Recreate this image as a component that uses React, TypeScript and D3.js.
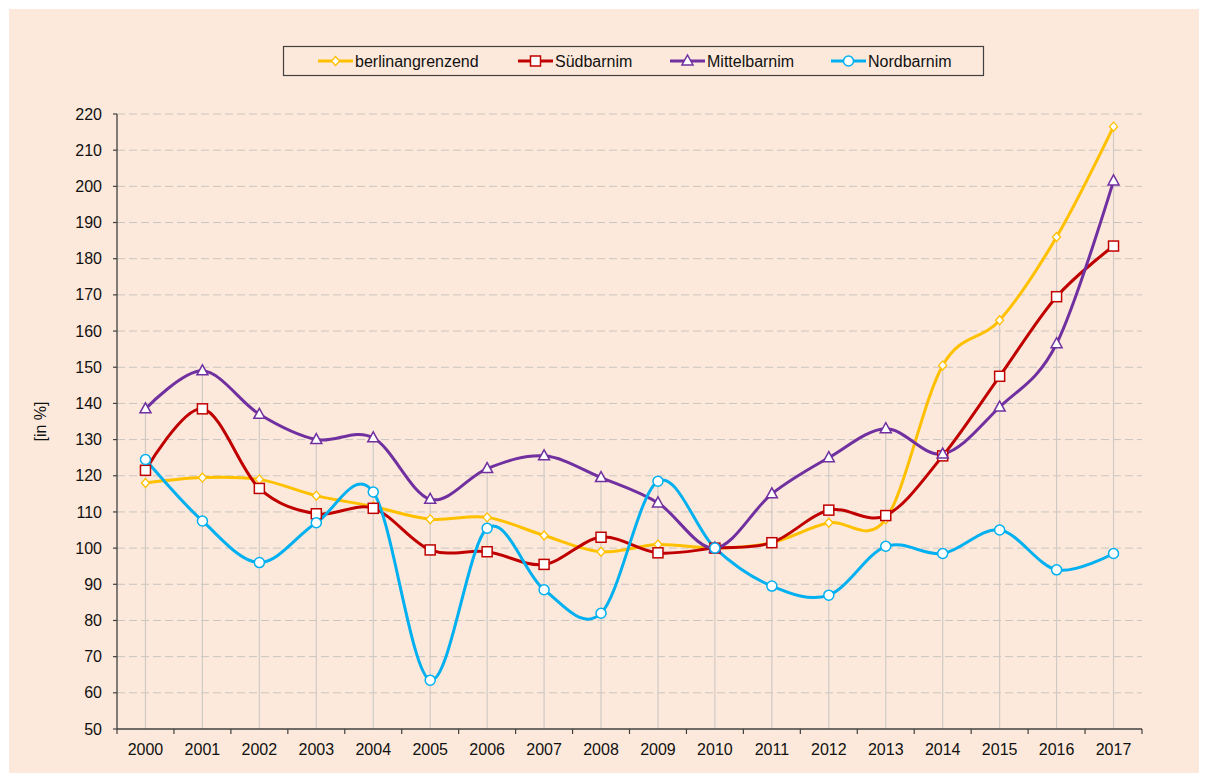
import React from "react";
import * as d3 from "d3";

const years = ["2000","2001","2002","2003","2004","2005","2006","2007","2008","2009","2010","2011","2012","2013","2014","2015","2016","2017"];
const berlinangrenzend = [118, 119.5, 119, 114.5, 111.5, 108, 108.5, 103.5, 99, 101, 100, 101.5, 107, 108, 150.5, 163, 186, 216.5];
const suedbarnim = [121.5, 138.5, 116.5, 109.5, 111, 99.5, 99, 95.5, 103, 98.7, 100, 101.5, 110.5, 109, 125.5, 147.5, 169.5, 183.5];
const mittelbarnim = [138.5, 149, 137, 130, 130.5, 113.5, 122, 125.5, 119.5, 112.5, 100, 115, 125, 133, 126, 139, 156.5, 201.5];
const nordbarnim = [124.5, 107.5, 96, 107, 115.5, 63.5, 105.5, 88.5, 82, 118.5, 100, 89.5, 87, 100.5, 98.5, 105, 94, 98.5];
const yTicks = [50,60,70,80,90,100,110,120,130,140,150,160,170,180,190,200,210,220];

const seriesList = [
  { name: "berlinangrenzend", values: berlinangrenzend, color: "#FFC000", marker: "diamond" },
  { name: "Südbarnim", values: suedbarnim, color: "#C00000", marker: "square" },
  { name: "Mittelbarnim", values: mittelbarnim, color: "#7030A0", marker: "triangle" },
  { name: "Nordbarnim", values: nordbarnim, color: "#00B0F0", marker: "circle" },
];
const legendX = [308, 508, 660, 821];

function Marker({ type, x, y, color }: { type: string; x: number; y: number; color: string }) {
  const sw = 1.5;
  if (type === "square") return <rect x={x - 5} y={y - 5} width={10} height={10} fill="#fff" stroke={color} strokeWidth={sw} />;
  if (type === "triangle") return <path d={`M${x},${y - 6}L${x + 5.5},${y + 4}L${x - 5.5},${y + 4}Z`} fill="#fff" stroke={color} strokeWidth={sw} />;
  if (type === "circle") return <circle cx={x} cy={y} r={5} fill="#fff" stroke={color} strokeWidth={sw} />;
  return <path d={`M${x},${y - 4.5}L${x + 4},${y}L${x},${y + 4.5}L${x - 4},${y}Z`} fill="#fff" stroke={color} strokeWidth={1.3} />;
}

export default function App() {
  const left = 117, right = 1142, top = 114, bottom = 729;
  const x = d3.scaleBand().domain(years).range([left, right]);
  const y = d3.scaleLinear().domain([50, 220]).range([bottom, top]);
  const cx = (yr: string) => (x(yr) as number) + x.bandwidth() / 2;
  const line = d3.line<number>().x((_, i) => cx(years[i])).y((v) => y(v)).curve(d3.curveCardinal.tension(0));
  const font = "'Liberation Sans', Arial, sans-serif";
  const maxes = years.map((_, i) => Math.max(...seriesList.map((s) => s.values[i])));
  const bounds = [...years.map((yr) => x(yr) as number), right];

  return (
    <svg width={1208} height={782} style={{ position: "absolute", left: 0, top: 0 }} fontFamily={font}>
      <rect x={0} y={0} width={1208} height={782} fill="#fff" />
      <rect x={9} y={9} width={1190} height={764} fill="#FDE9DB" />
      {yTicks.filter((t) => t > 50).map((t) => (
        <line key={t} x1={left} x2={right} y1={y(t)} y2={y(t)} stroke="#C8C4C0" strokeWidth={1} strokeDasharray="8,4" />
      ))}
      {years.map((yr, i) => (
        <line key={yr} x1={cx(yr)} x2={cx(yr)} y1={y(maxes[i])} y2={bottom} stroke="#CFCAC6" strokeWidth={1.2} />
      ))}
      <line x1={left} x2={left} y1={top} y2={bottom} stroke="#404040" strokeWidth={1.3} />
      <line x1={left} x2={right} y1={bottom} y2={bottom} stroke="#404040" strokeWidth={1.5} />
      {yTicks.map((t) => (
        <g key={t}>
          <line x1={left - 4} x2={left} y1={y(t)} y2={y(t)} stroke="#404040" strokeWidth={1.2} />
          <text x={102} y={y(t)} dy="0.35em" textAnchor="end" fontSize={16} fill="#111">{t}</text>
        </g>
      ))}
      {bounds.map((b, i) => (
        <line key={i} x1={b} x2={b} y1={bottom} y2={bottom + 5} stroke="#404040" strokeWidth={1.2} />
      ))}
      {years.map((yr) => (
        <text key={yr} x={cx(yr)} y={755} textAnchor="middle" fontSize={16} fill="#111">{yr}</text>
      ))}
      <text transform={`translate(46,${(top + bottom) / 2}) rotate(-90)`} textAnchor="middle" fontSize={16} fill="#111">[in %]</text>
      {seriesList.map((s) => (
        <path key={s.name} d={line(s.values) as string} fill="none" stroke={s.color} strokeWidth={3} />
      ))}
      {seriesList.map((s) => (
        <g key={s.name + "m"}>
          {s.values.map((v, i) => <Marker key={i} type={s.marker} x={cx(years[i])} y={y(v)} color={s.color} />)}
        </g>
      ))}
      <rect x={283.5} y={46.5} width={700} height={29} fill="none" stroke="#404040" strokeWidth={1.2} />
      {seriesList.map((s, i) => (
        <g key={s.name + "l"}>
          <line x1={legendX[i] + 10} x2={legendX[i] + 45} y1={61} y2={61} stroke={s.color} strokeWidth={3} />
          <Marker type={s.marker} x={legendX[i] + 27.5} y={61} color={s.color} />
          <text x={legendX[i] + 47} y={61} dy="0.35em" fontSize={16} fill="#111">{s.name}</text>
        </g>
      ))}
    </svg>
  );
}
